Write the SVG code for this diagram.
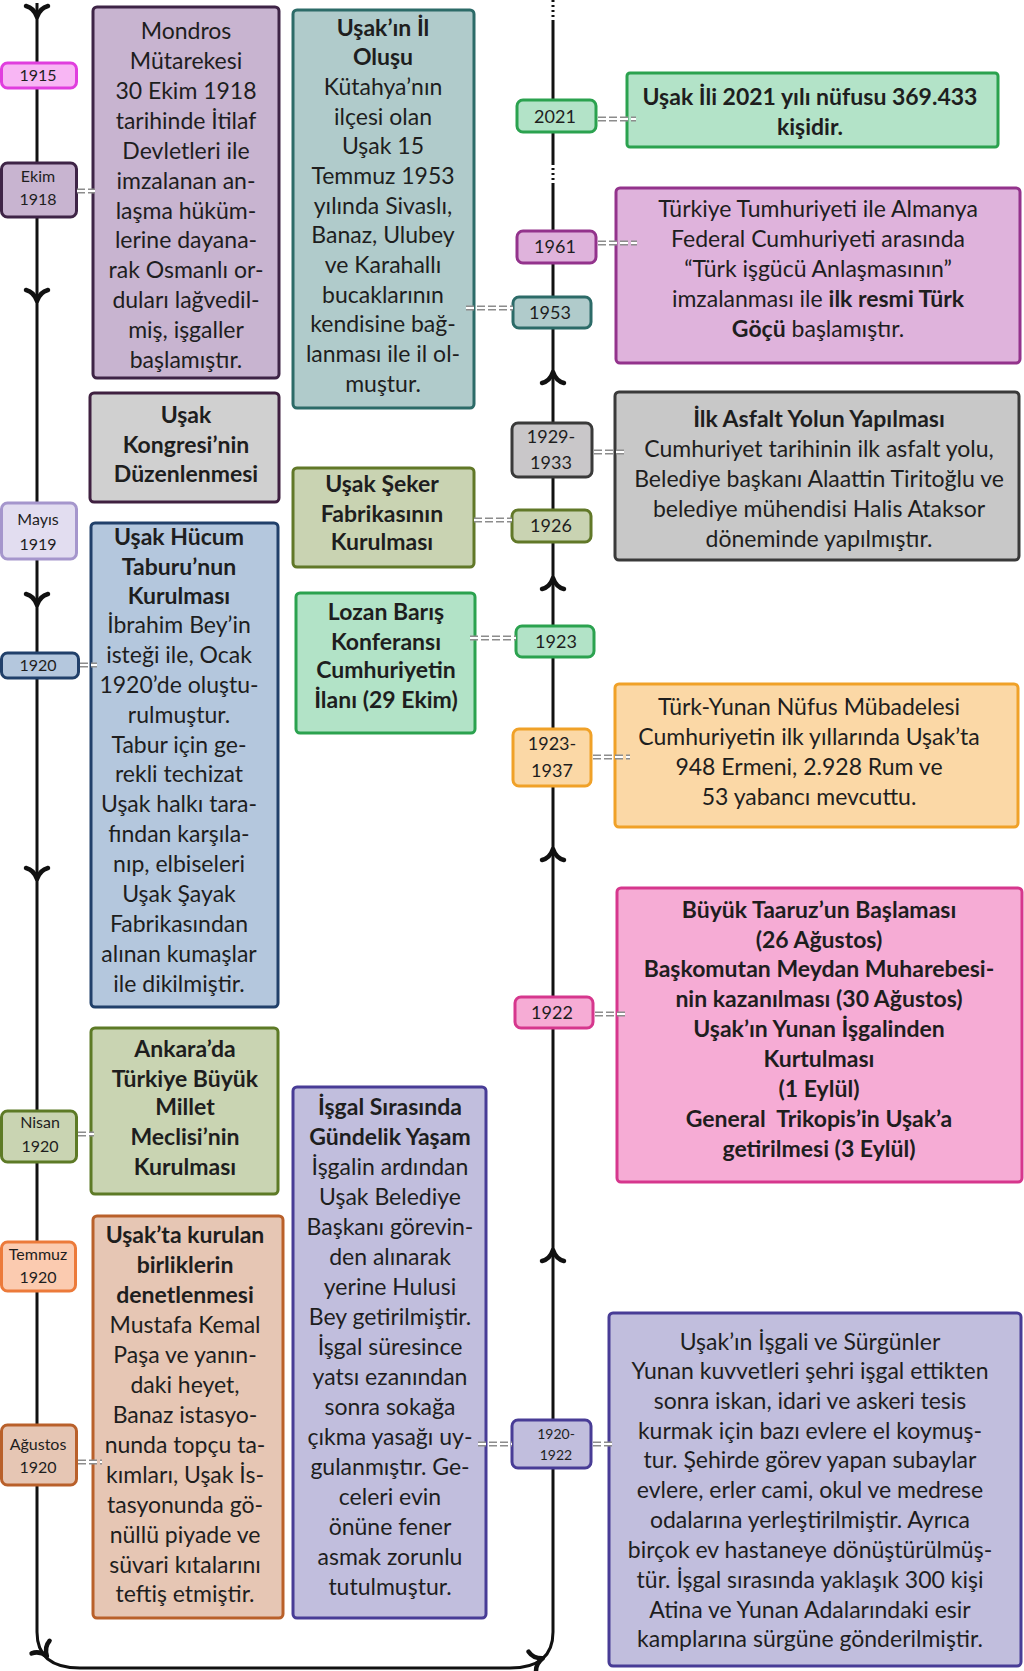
<svg xmlns="http://www.w3.org/2000/svg" xmlns:xlink="http://www.w3.org/1999/xlink" width="1024" height="1671" viewBox="0 0 1024 1671">
<style>
  text { font-family: Lato, "Noto Sans", "Liberation Sans", sans-serif; fill: #1e1e1e; text-anchor: middle; }
  .t { font-size: 23px; }
  .b { font-size: 23px; font-weight: bold; }
  .d { font-size: 16px; }
  .dl { font-size: 18px; }
  .ds { font-size: 14px; }
  .box { stroke-width: 3; }
  .cout { stroke: #8c8c8c; stroke-width: 5; stroke-dasharray: 8 3; fill: none; }
  .cin { stroke: #ffffff; stroke-width: 2; stroke-dasharray: 8 3; fill: none; }
  .tl { stroke: #111; stroke-width: 3; fill: none; }
  .dot { stroke: #111; stroke-width: 3; stroke-dasharray: 2 3; fill: none; }
  .chev { stroke: #111; stroke-width: 4.5; fill: none; stroke-linecap: round; stroke-linejoin: round; }
</style>
<defs>
  <path id="chev" class="chev" d="M-11,-6 Q-3,-4 0,5 Q3,-4 11,-6"/>
</defs>
<rect width="1024" height="1671" fill="#ffffff"/>

<g id="timeline">
  <path class="tl" d="M37,3 L37,1632 Q37,1668 80,1668 L510,1668 Q553,1668 553,1632 L553,183"/>
  <line class="dot" x1="553" y1="163" x2="553" y2="183"/>
  <line class="tl" x1="553" y1="20" x2="553" y2="163"/>
  <line class="dot" x1="553" y1="0" x2="553" y2="20"/>
  <use xlink:href="#chev" transform="translate(37,12)"/>
  <use xlink:href="#chev" transform="translate(37,296)"/>
  <use xlink:href="#chev" transform="translate(37,600)"/>
  <use xlink:href="#chev" transform="translate(37,874)"/>
  <use xlink:href="#chev" transform="translate(44,1652) rotate(-35)"/>
  <use xlink:href="#chev" transform="translate(538,1660) rotate(-110)"/>
  <use xlink:href="#chev" transform="translate(553,377) rotate(180)"/>
  <use xlink:href="#chev" transform="translate(553,583) rotate(180)"/>
  <use xlink:href="#chev" transform="translate(553,854) rotate(180)"/>
  <use xlink:href="#chev" transform="translate(553,1255) rotate(180)"/>
</g>

<!-- Date boxes -->
<g id="d1915"><rect class="box" x="1.5" y="63" width="75" height="25" rx="6" fill="#f8b6f4" stroke="#e03ede"/><text class="d" x="38" y="81">1915</text></g>
<g id="dEkim1918"><rect class="box" x="1.5" y="163" width="75" height="54" rx="6" fill="#c8b4d0" stroke="#3e2446"/><text class="d" x="38" y="182">Ekim</text><text class="d" x="38" y="205">1918</text></g>
<g id="dMayis1919"><rect class="box" x="1.5" y="503" width="75" height="56" rx="6" fill="#e2ddf0" stroke="#a596cc"/><text class="d" x="38" y="525">Mayıs</text><text class="d" x="38" y="550">1919</text></g>
<g id="d1920"><rect class="box" x="1.5" y="653" width="77" height="25" rx="6" fill="#b4c7dd" stroke="#21406a"/><text class="d" x="38" y="671">1920</text></g>
<g id="dNisan1920"><rect class="box" x="1.5" y="1111" width="75" height="51" rx="6" fill="#c9d4b2" stroke="#5d7a26"/><text class="d" x="40" y="1128">Nisan</text><text class="d" x="40" y="1152">1920</text></g>
<g id="dTemmuz1920"><rect class="box" x="1.5" y="1242" width="74" height="49" rx="6" fill="#fbcbb0" stroke="#ec7a3a"/><text class="d" x="38" y="1260">Temmuz</text><text class="d" x="38" y="1283">1920</text></g>
<g id="dAgustos1920"><rect class="box" x="1.5" y="1425" width="75" height="60" rx="6" fill="#e6c6b4" stroke="#b9602a"/><text class="d" x="38" y="1450">Ağustos</text><text class="d" x="38" y="1473">1920</text></g>
<g id="d2021"><rect class="box" x="517" y="100" width="79" height="32" rx="6" fill="#b3e3c8" stroke="#2ba24f"/><text class="dl" x="555" y="123">2021</text></g>
<g id="d1961"><rect class="box" x="517" y="231" width="79" height="32" rx="6" fill="#dfb3dc" stroke="#93338c"/><text class="dl" x="555" y="253">1961</text></g>
<g id="d1953"><rect class="box" x="513" y="297" width="78" height="31" rx="6" fill="#b0cbcb" stroke="#2c6b68"/><text class="dl" x="550" y="319">1953</text></g>
<g id="d1929"><rect class="box" x="512" y="423" width="80" height="54" rx="6" fill="#c9c7c9" stroke="#3a3a3a"/><text class="dl" x="551" y="443">1929-</text><text class="dl" x="551" y="469">1933</text></g>
<g id="d1926"><rect class="box" x="512" y="510" width="79" height="32" rx="6" fill="#c9d3b2" stroke="#617828"/><text class="dl" x="551" y="532">1926</text></g>
<g id="d1923"><rect class="box" x="516" y="626" width="78" height="31" rx="6" fill="#b2e3c7" stroke="#2ba24f"/><text class="dl" x="556" y="648">1923</text></g>
<g id="d1923_1937"><rect class="box" x="513" y="729" width="78" height="57" rx="6" fill="#fbd8a6" stroke="#f0a128"/><text class="dl" x="552" y="750">1923-</text><text class="dl" x="552" y="777">1937</text></g>
<g id="d1922"><rect class="box" x="515" y="997" width="78" height="31" rx="6" fill="#f6acd5" stroke="#d6378d"/><text class="dl" x="552" y="1019">1922</text></g>
<g id="d1920_1922"><rect class="box" x="512" y="1420" width="79" height="48" rx="6" fill="#c1bedd" stroke="#483c96"/><text class="ds" x="556" y="1439">1920-</text><text class="ds" x="556" y="1460">1922</text></g>

<!-- Content boxes -->
<g id="nMondros">
  <rect class="box" x="93" y="7" width="186" height="371" rx="4" fill="#c8b4d0" stroke="#3e2446"/>
  <text class="t" x="186" y="39">Mondros</text>
  <text class="t" x="186" y="69">Mütarekesi</text>
  <text class="t" x="186" y="99">30 Ekim 1918</text>
  <text class="t" x="186" y="129">tarihinde İtilaf</text>
  <text class="t" x="186" y="159">Devletleri ile</text>
  <text class="t" x="186" y="189">imzalanan an-</text>
  <text class="t" x="186" y="219">laşma hüküm-</text>
  <text class="t" x="186" y="248">lerine dayana-</text>
  <text class="t" x="186" y="278">rak Osmanlı or-</text>
  <text class="t" x="186" y="308">duları lağvedil-</text>
  <text class="t" x="186" y="338">miş, işgaller</text>
  <text class="t" x="186" y="368">başlamıştır.</text>
</g>
<g id="nIlOlusu">
  <rect class="box" x="293" y="10" width="181" height="398" rx="4" fill="#b0cbcb" stroke="#2c6b68"/>
  <text class="b" x="383" y="36">Uşak’ın İl</text>
  <text class="b" x="383" y="65">Oluşu</text>
  <text class="t" x="383" y="95">Kütahya’nın</text>
  <text class="t" x="383" y="125">ilçesi olan</text>
  <text class="t" x="383" y="154">Uşak 15</text>
  <text class="t" x="383" y="184">Temmuz 1953</text>
  <text class="t" x="383" y="214">yılında Sivaslı,</text>
  <text class="t" x="383" y="243">Banaz, Ulubey</text>
  <text class="t" x="383" y="273">ve Karahallı</text>
  <text class="t" x="383" y="303">bucaklarının</text>
  <text class="t" x="383" y="332">kendisine bağ-</text>
  <text class="t" x="383" y="362">lanması ile il ol-</text>
  <text class="t" x="383" y="392">muştur.</text>
</g>
<g id="n2021">
  <rect class="box" x="627" y="73" width="371" height="74" rx="3" fill="#b3e3c8" stroke="#2ba24f"/>
  <text class="b" x="810" y="105">Uşak İli 2021 yılı nüfusu 369.433</text>
  <text class="b" x="810" y="135">kişidir.</text>
</g>
<g id="n1961">
  <rect class="box" x="616" y="188" width="404" height="175" rx="4" fill="#dfb3dc" stroke="#93338c"/>
  <text class="t" x="818" y="217">Türkiye Tumhuriyeti ile Almanya</text>
  <text class="t" x="818" y="247">Federal Cumhuriyeti arasında</text>
  <text class="t" x="818" y="277">“Türk işgücü Anlaşmasının”</text>
  <text class="t" x="818" y="307">imzalanması ile <tspan font-weight="bold">ilk resmi Türk</tspan></text>
  <text class="t" x="818" y="337"><tspan font-weight="bold">Göçü</tspan> başlamıştır.</text>
</g>
<g id="nKongre">
  <rect class="box" x="90" y="393" width="189" height="109" rx="4" fill="#d0d0d0" stroke="#3f2040"/>
  <text class="b" x="186" y="423">Uşak</text>
  <text class="b" x="186" y="453">Kongresi’nin</text>
  <text class="b" x="186" y="482">Düzenlenmesi</text>
</g>
<g id="nAsfalt">
  <rect class="box" x="615" y="392" width="404" height="168" rx="4" fill="#c8c8c8" stroke="#3a3a3a"/>
  <text class="b" x="819" y="427">İlk Asfalt Yolun Yapılması</text>
  <text class="t" x="819" y="457">Cumhuriyet tarihinin ilk asfalt yolu,</text>
  <text class="t" x="819" y="487">Belediye başkanı Alaattin Tiritoğlu ve</text>
  <text class="t" x="819" y="517">belediye mühendisi Halis Ataksor</text>
  <text class="t" x="819" y="547">döneminde yapılmıştır.</text>
</g>
<g id="nSeker">
  <rect class="box" x="293" y="468" width="181" height="99" rx="4" fill="#c9d3b2" stroke="#617828"/>
  <text class="b" x="382" y="492">Uşak Şeker</text>
  <text class="b" x="382" y="522">Fabrikasının</text>
  <text class="b" x="382" y="550">Kurulması</text>
</g>
<g id="nHucum">
  <rect class="box" x="91" y="523" width="187" height="484" rx="4" fill="#b4c7dd" stroke="#21406a"/>
  <text class="b" x="179" y="545">Uşak Hücum</text>
  <text class="b" x="179" y="575">Taburu’nun</text>
  <text class="b" x="179" y="604">Kurulması</text>
  <text class="t" x="179" y="633">İbrahim Bey’in</text>
  <text class="t" x="179" y="663">isteği ile, Ocak</text>
  <text class="t" x="179" y="693">1920’de oluştu-</text>
  <text class="t" x="179" y="723">rulmuştur.</text>
  <text class="t" x="179" y="753">Tabur için ge-</text>
  <text class="t" x="179" y="782">rekli techizat</text>
  <text class="t" x="179" y="812">Uşak halkı tara-</text>
  <text class="t" x="179" y="842">fından karşıla-</text>
  <text class="t" x="179" y="872">nıp, elbiseleri</text>
  <text class="t" x="179" y="902">Uşak Şayak</text>
  <text class="t" x="179" y="932">Fabrikasından</text>
  <text class="t" x="179" y="962">alınan kumaşlar</text>
  <text class="t" x="179" y="992">ile dikilmiştir.</text>
</g>
<g id="nLozan">
  <rect class="box" x="296" y="593" width="179" height="140" rx="4" fill="#b2e3c7" stroke="#2ba24f"/>
  <text class="b" x="386" y="620">Lozan Barış</text>
  <text class="b" x="386" y="650">Konferansı</text>
  <text class="b" x="386" y="678">Cumhuriyetin</text>
  <text class="b" x="386" y="708">İlanı (29 Ekim)</text>
</g>
<g id="nMubadele">
  <rect class="box" x="615" y="684" width="403" height="143" rx="4" fill="#fbd8a6" stroke="#f0a128"/>
  <text class="t" x="809" y="715">Türk-Yunan Nüfus Mübadelesi</text>
  <text class="t" x="809" y="745">Cumhuriyetin ilk yıllarında Uşak’ta</text>
  <text class="t" x="809" y="775">948 Ermeni, 2.928 Rum ve</text>
  <text class="t" x="809" y="805">53 yabancı mevcuttu.</text>
</g>
<g id="nBuyukTaarruz">
  <rect class="box" x="617" y="888" width="405" height="294" rx="4" fill="#f6acd5" stroke="#d6378d"/>
  <text class="b" x="819" y="918">Büyük Taaruz’un Başlaması</text>
  <text class="b" x="819" y="948">(26 Ağustos)</text>
  <text class="b" x="819" y="977">Başkomutan Meydan Muharebesi-</text>
  <text class="b" x="819" y="1007">nin kazanılması (30 Ağustos)</text>
  <text class="b" x="819" y="1037">Uşak’ın Yunan İşgalinden</text>
  <text class="b" x="819" y="1067">Kurtulması</text>
  <text class="b" x="819" y="1097">(1 Eylül)</text>
  <text class="b" x="819" y="1127" xml:space="preserve">General  Trikopis’in Uşak’a</text>
  <text class="b" x="819" y="1157">getirilmesi (3 Eylül)</text>
</g>
<g id="nAnkara">
  <rect class="box" x="91" y="1028" width="187" height="166" rx="4" fill="#c9d4b2" stroke="#5d7a26"/>
  <text class="b" x="185" y="1057">Ankara’da</text>
  <text class="b" x="185" y="1087">Türkiye Büyük</text>
  <text class="b" x="185" y="1115">Millet</text>
  <text class="b" x="185" y="1145">Meclisi’nin</text>
  <text class="b" x="185" y="1175">Kurulması</text>
</g>
<g id="nIsgalYasam">
  <rect class="box" x="293" y="1087" width="193" height="531" rx="4" fill="#c1bedd" stroke="#483c96"/>
  <text class="b" x="390" y="1115">İşgal Sırasında</text>
  <text class="b" x="390" y="1145">Gündelik Yaşam</text>
  <text class="t" x="390" y="1175">İşgalin ardından</text>
  <text class="t" x="390" y="1205">Uşak Belediye</text>
  <text class="t" x="390" y="1235">Başkanı görevin-</text>
  <text class="t" x="390" y="1265">den alınarak</text>
  <text class="t" x="390" y="1295">yerine Hulusi</text>
  <text class="t" x="390" y="1325">Bey getirilmiştir.</text>
  <text class="t" x="390" y="1355">İşgal süresince</text>
  <text class="t" x="390" y="1385">yatsı ezanından</text>
  <text class="t" x="390" y="1415">sonra sokağa</text>
  <text class="t" x="390" y="1445">çıkma yasağı uy-</text>
  <text class="t" x="390" y="1475">gulanmıştır. Ge-</text>
  <text class="t" x="390" y="1505">celeri evin</text>
  <text class="t" x="390" y="1535">önüne fener</text>
  <text class="t" x="390" y="1565">asmak zorunlu</text>
  <text class="t" x="390" y="1595">tutulmuştur.</text>
</g>
<g id="nDenetleme">
  <rect class="box" x="93" y="1216" width="190" height="402" rx="4" fill="#e6c6b4" stroke="#b9602a"/>
  <text class="b" x="185" y="1243">Uşak’ta kurulan</text>
  <text class="b" x="185" y="1273">birliklerin</text>
  <text class="b" x="185" y="1303">denetlenmesi</text>
  <text class="t" x="185" y="1333">Mustafa Kemal</text>
  <text class="t" x="185" y="1363">Paşa ve yanın-</text>
  <text class="t" x="185" y="1393">daki heyet,</text>
  <text class="t" x="185" y="1423">Banaz istasyo-</text>
  <text class="t" x="185" y="1453">nunda topçu ta-</text>
  <text class="t" x="185" y="1483">kımları, Uşak İs-</text>
  <text class="t" x="185" y="1513">tasyonunda gö-</text>
  <text class="t" x="185" y="1543">nüllü piyade ve</text>
  <text class="t" x="185" y="1573">süvari kıtalarını</text>
  <text class="t" x="185" y="1602">teftiş etmiştir.</text>
</g>
<g id="nSurgun">
  <rect class="box" x="609" y="1313" width="412" height="353" rx="4" fill="#c1bedd" stroke="#483c96"/>
  <text class="t" x="810" y="1350">Uşak’ın İşgali ve Sürgünler</text>
  <text class="t" x="810" y="1379">Yunan kuvvetleri şehri işgal ettikten</text>
  <text class="t" x="810" y="1409">sonra iskan, idari ve askeri tesis</text>
  <text class="t" x="810" y="1439">kurmak için bazı evlere el koymuş-</text>
  <text class="t" x="810" y="1468">tur. Şehirde görev yapan subaylar</text>
  <text class="t" x="810" y="1498">evlere, erler cami, okul ve medrese</text>
  <text class="t" x="810" y="1528">odalarına yerleştirilmiştir. Ayrıca</text>
  <text class="t" x="810" y="1558">birçok ev hastaneye dönüştürülmüş-</text>
  <text class="t" x="810" y="1588">tür. İşgal sırasında yaklaşık 300 kişi</text>
  <text class="t" x="810" y="1618">Atina ve Yunan Adalarındaki esir</text>
  <text class="t" x="810" y="1647">kamplarına sürgüne gönderilmiştir.</text>
</g>

<g id="connectors">
  <line class="cout" x1="77" y1="191" x2="95" y2="191"/><line class="cin" x1="77" y1="191" x2="95" y2="191"/>
  <line class="cout" x1="598" y1="119" x2="636" y2="119"/><line class="cin" x1="598" y1="119" x2="636" y2="119"/>
  <line class="cout" x1="598" y1="243" x2="637" y2="243"/><line class="cin" x1="598" y1="243" x2="637" y2="243"/>
  <line class="cout" x1="466" y1="308" x2="513" y2="308"/><line class="cin" x1="466" y1="308" x2="513" y2="308"/>
  <line class="cout" x1="594" y1="452" x2="625" y2="452"/><line class="cin" x1="594" y1="452" x2="625" y2="452"/>
  <line class="cout" x1="474" y1="520" x2="512" y2="520"/><line class="cin" x1="474" y1="520" x2="512" y2="520"/>
  <line class="cout" x1="470" y1="638" x2="516" y2="638"/><line class="cin" x1="470" y1="638" x2="516" y2="638"/>
  <line class="cout" x1="593" y1="757" x2="630" y2="757"/><line class="cin" x1="593" y1="757" x2="630" y2="757"/>
  <line class="cout" x1="595" y1="1014" x2="627" y2="1014"/><line class="cin" x1="595" y1="1014" x2="627" y2="1014"/>
  <line class="cout" x1="80" y1="665" x2="97" y2="665"/><line class="cin" x1="80" y1="665" x2="97" y2="665"/>
  <line class="cout" x1="78" y1="1134" x2="94" y2="1134"/><line class="cin" x1="78" y1="1134" x2="94" y2="1134"/>
  <line class="cout" x1="78" y1="1462" x2="102" y2="1462"/><line class="cin" x1="78" y1="1462" x2="102" y2="1462"/>
  <line class="cout" x1="478" y1="1444" x2="512" y2="1444"/><line class="cin" x1="478" y1="1444" x2="512" y2="1444"/>
  <line class="cout" x1="593" y1="1444" x2="614" y2="1444"/><line class="cin" x1="593" y1="1444" x2="614" y2="1444"/>
</g>
</svg>
